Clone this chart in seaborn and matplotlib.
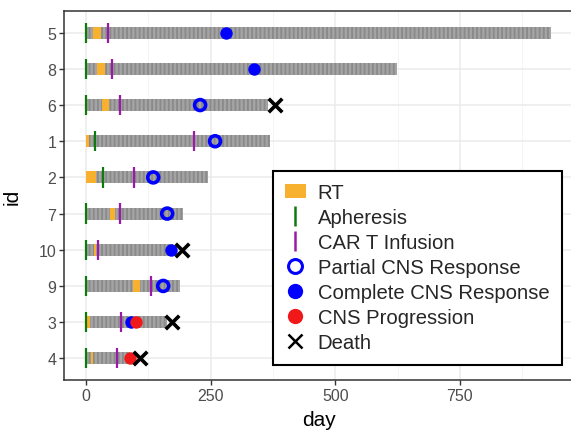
import matplotlib
matplotlib.use("Agg")
import matplotlib.pyplot as plt
from matplotlib.lines import Line2D
from matplotlib.patches import Patch
from matplotlib.ticker import MultipleLocator
import numpy as np
import pandas as pd
import seaborn as sns

# ---- data ----
ids = ["5", "8", "6", "1", "2", "7", "10", "9", "3", "4"]          # top to bottom
follow_end = [932, 623, 365, 370, 244, 195, 175, 188, 162, 88]
rt_start = [15, 23, 33, 1, 1, 48, 17, 95, 2, 10]
rt_end = [31, 38, 47, 7, 21, 58, 21, 108, 8, 15]
apheresis_day = [0, 0, 0, 19, 35, 0, 0, 0, 0, 0]
cart_day = [45, 53, 69, 217, 97, 68, 25, 130, 70, 63]
partial_ids = ["6", "1", "2", "7", "9"]
partial_day = [229, 259, 135, 163, 155]
complete_ids = ["5", "8", "10", "3"]
complete_day = [281, 337, 170, 90]
progression_ids = ["3", "4"]
progression_day = [100, 88]
death_ids = ["6", "10", "3", "4"]
death_day = [379, 192, 173, 108]
x_ticks = [0, 250, 500, 750]

sns.set_theme(style="whitegrid")
plt.rcParams["font.family"] = ["Liberation Sans", "DejaVu Sans"]
plt.rcParams["hatch.linewidth"] = 1.3

W, H = 571, 431
fig = plt.figure(figsize=(W / 100, H / 100), dpi=100)
left, right, top, bottom = 64, 574, 12, 381
ax = fig.add_axes([left / W, 1 - bottom / H, (right - left) / W, (bottom - top) / H])

n = len(ids)
ypos = {k: n - 1 - i for i, k in enumerate(ids)}
y = np.array([ypos[k] for k in ids])

bar_h = 0.33
# follow-up bars
ax.barh(y, follow_end, left=0, height=bar_h, color="#a4a4a4", edgecolor="#8a8a8a",
        hatch="||||", linewidth=0, zorder=2)
# RT
ax.barh(y, np.array(rt_end) - np.array(rt_start), left=rt_start, height=bar_h,
        color="#F8B02F", linewidth=0, zorder=3)
# apheresis & CAR T
ax.vlines(apheresis_day, y - 0.28, y + 0.28, color="#0E7A0E", linewidth=1.6, zorder=4)
ax.vlines(cart_day, y - 0.28, y + 0.28, color="#9A1AA8", linewidth=1.6, zorder=4)

def df_of(id_list, days):
    return pd.DataFrame({"y": [ypos[k] for k in id_list], "day": days})

sns.scatterplot(data=df_of(partial_ids, partial_day), x="day", y="y", ax=ax, marker="o",
                s=62, facecolor="none", edgecolor="#0000FF", linewidth=2.6, zorder=5)
sns.scatterplot(data=df_of(complete_ids, complete_day), x="day", y="y", ax=ax, marker="o",
                s=80, color="#0000FF", linewidth=0, zorder=5)
sns.scatterplot(data=df_of(progression_ids, progression_day), x="day", y="y", ax=ax, marker="o",
                s=80, color="#F01818", linewidth=0, zorder=6)
sns.scatterplot(data=df_of(death_ids, death_day), x="day", y="y", ax=ax, marker="x",
                s=95, color="black", linewidth=2.6, zorder=7)

ax.set_xlim(-44, 979)
ax.set_ylim(-0.6, n - 0.4)
ax.set_yticks(range(n))
ax.set_yticklabels(ids[::-1])
ax.set_xticks(x_ticks)
ax.xaxis.set_minor_locator(MultipleLocator(125))
ax.grid(True, which="major", color="#EBEBEB", linewidth=1.1)
ax.grid(True, which="minor", axis="x", color="#F2F2F2", linewidth=0.6)
ax.set_axisbelow(True)
for s in ["left", "top", "bottom", "right"]:
    ax.spines[s].set_color("#333333")
    ax.spines[s].set_linewidth(1.1)
ax.tick_params(axis="both", which="major", length=3.5, width=1, color="#333333",
               labelsize=11.5, labelcolor="#4D4D4D", pad=2, left=True, bottom=True)
ax.tick_params(axis="x", which="minor", length=0)
ax.set_xlabel("day", fontsize=15, color="black", labelpad=5)
ax.set_ylabel("id", fontsize=15, color="black", labelpad=12)

handles = [
    Patch(facecolor="#F8B02F", edgecolor="none"),
    Line2D([], [], linestyle="none", marker="|", markersize=15, mew=1.8, color="#0E7A0E"),
    Line2D([], [], linestyle="none", marker="|", markersize=15, mew=1.8, color="#9A1AA8"),
    Line2D([], [], linestyle="none", marker="o", markersize=10, mfc="none", mec="#0000FF", mew=2.2),
    Line2D([], [], linestyle="none", marker="o", markersize=11, mfc="#0000FF", mec="none"),
    Line2D([], [], linestyle="none", marker="o", markersize=11, mfc="#F01818", mec="none"),
    Line2D([], [], linestyle="none", marker="x", markersize=10, color="black", mew=1.8),
]
labels = ["RT", "Apheresis", "CAR T Infusion", "Partial CNS Response",
          "Complete CNS Response", "CNS Progression", "Death"]
leg = ax.legend(handles, labels, loc="upper left", bbox_to_anchor=(0.41, 0.567),
                fontsize=14.6, frameon=True, fancybox=False, edgecolor="black",
                framealpha=1, handlelength=1.0, handletextpad=0.6, labelspacing=0.3,
                borderpad=0.6, borderaxespad=0)
leg.get_frame().set_linewidth(1.5)

fig.savefig("out.png", dpi=100)
